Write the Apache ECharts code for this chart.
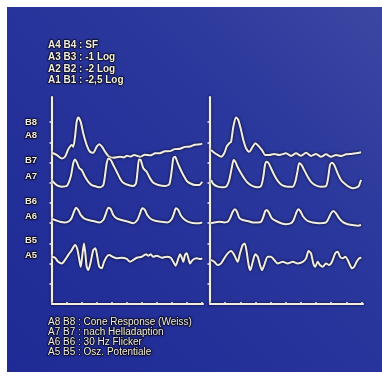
<!DOCTYPE html>
<html><head><meta charset="utf-8">
<script src="https://cdn.jsdelivr.net/npm/echarts@6/dist/echarts.min.js"></script>
<style>html,body{margin:0;padding:0;background:#fff}#c{width:382px;height:382px}</style>
</head><body><div id="c"></div>
<script>
// Tick positions (axis units)
const xTicks = [10,20,30,40,50,60,70,80,90,100];
const yTicks = [10,20,30,40,50,60,70,80,90];
// Row labels on the left
const rowLabels = ['B8','A8','B7','A7','B6','A6','B5','A5'];
const topLegend = ['A4 B4 : SF','A3 B3 : -1 Log','A2 B2 : -2 Log','A1 B1 : -2,5 Log'];
const bottomLegend = ['A8 B8 : Cone Response (Weiss)','A7 B7 : nach Helladaption','A6 B6 : 30 Hz Flicker','A5 B5 : Osz. Potentiale'];

// Left panel (A) traces: [x, y]
const coneA = [[0,74.9],[3.1,73.8],[6.5,72.1],[8.7,72.9],[10.9,76.6],[13.2,78.7],[14.2,77.9],[15.4,82.8],[16.5,90.2],[17.6,92.4],[19.2,90.2],[20.9,84.5],[23.2,78.7],[25.4,75.4],[27.6,74.9],[29.9,77.9],[31.6,79.1],[33.4,77.9],[35.5,75.4],[37.7,73.3],[41,72.4],[45.5,72.9],[48,72.6],[50,73.4],[52.2,73.0],[55,73.8],[58.9,72.9],[62,73.9],[65.6,73.6],[69,74.6],[72.2,74.7],[75.5,75.6],[78.9,75.7],[82,76.7],[85.6,76.9],[89,77.8],[92.3,78.0],[95.5,78.9],[99,79.1],[100.5,79.4]];
const helladA = [[0,61.0],[3.1,58.9],[6.5,58.1],[9.8,58.4],[12.5,63.0],[14.2,69.7],[15.4,71.6],[16.5,70.4],[18.3,67.2],[19.9,66.3],[22.1,63.0],[24.3,60.5],[26.6,58.9],[29.9,58.1],[32.1,57.8],[34.3,58.9],[35.5,63.9],[36.6,69.7],[37.7,72.1],[39.3,71.3],[41,68.8],[43.3,65.5],[45.5,62.2],[47.7,60.0],[51,58.9],[54.4,58.4],[56.2,59.8],[57.3,66.3],[58.2,71.6],[59.3,71.3],[61.1,67.2],[63.3,65.5],[65.6,62.2],[67.8,60.0],[71.1,58.9],[75.6,58.4],[78.5,59.4],[80.1,66.3],[81.1,72.1],[82.3,72.9],[83.8,70.4],[85.6,67.2],[87.8,63.9],[90.1,61.0],[92.3,59.8],[95.7,58.9],[98.5,58.9],[100.5,60.5]];
const flickerA = [[0,42.1],[2,41.6],[5.4,40.7],[8.7,40.4],[11.6,41.1],[13.2,42.7],[14.7,45.7],[16.1,47.7],[17.6,46.5],[19.2,44.1],[21.4,42.4],[24.3,41.6],[27.6,41.1],[31.6,40.4],[34.3,41.6],[36.1,44.9],[37.7,47.7],[39.3,47.0],[41,44.1],[43.3,42.4],[46.6,41.6],[51,40.7],[54.4,40.0],[57.1,41.6],[58.9,44.9],[60.4,47.4],[62.2,46.5],[63.7,44.1],[66.2,42.1],[69.6,41.1],[73.4,40.7],[77.1,40.4],[80.1,42.1],[81.6,44.9],[82.9,47.4],[84.5,46.5],[86.3,43.7],[89,41.6],[92.3,40.4],[95.7,40.0],[98.5,40.0],[100.5,40.4]];
const oszA = [[0,23.4],[2,22.9],[4.2,20.9],[6.5,20.1],[8.7,21.8],[10.9,24.3],[13.2,26.7],[15.4,29.2],[16.9,27.2],[18.3,21.8],[19.2,18.5],[20.3,24.3],[21.4,30.0],[22.3,25.1],[23.2,18.5],[24.3,16.8],[25.9,20.9],[27.6,26.7],[29,27.6],[30.3,23.4],[31.6,18.5],[33.2,17.7],[34.8,20.9],[36.6,23.4],[38.3,24.3],[40.6,23.4],[43.3,22.6],[46.6,22.9],[50,22.3],[52.2,20.9],[54.4,21.8],[56.7,22.9],[60,23.4],[62.9,24.6],[64.4,23.9],[66,24.6],[67.8,23.4],[70,23.9],[73.4,22.9],[76.7,23.4],[79.4,22.9],[81.1,20.9],[82.7,19.0],[84.5,22.6],[85.6,24.6],[87,22.6],[87.8,20.9],[89,24.3],[90.1,25.1],[91.2,22.6],[92.3,20.1],[94.1,21.8],[96.8,22.6],[99.5,22.3],[100.5,22.6]];

// Right panel (B) traces
const coneB = [[0.7,76.2],[2.8,74.9],[5.1,73.8],[7.3,72.9],[9.4,74.6],[11,77.9],[12.7,79.6],[13.9,80.3],[15.4,87.8],[17.2,92.4],[18.7,91.1],[20.5,86.1],[22,81.2],[23.8,77.1],[25.9,75.4],[28.2,77.9],[29.9,79.6],[32.1,78.2],[34.3,76.2],[36.5,73.8],[39.1,73.8],[42.4,74.3],[45.7,73.8],[50.2,74.6],[53.5,73.3],[56.8,74.6],[60.1,73.4],[63.4,74.9],[66.7,73.3],[70,74.3],[73.3,72.9],[76.6,74.1],[79.9,72.9],[83.2,73.8],[86.5,73.3],[89.8,74.1],[93.1,74.3],[96.4,74.6],[99.7,75.1]];
const helladB = [[0.7,61.4],[2.2,59.4],[5.1,58.1],[8.4,57.8],[11,58.4],[12.7,61.4],[14.5,68.0],[15.6,71.3],[16.7,70.4],[18.3,67.7],[20.5,64.7],[22.6,62.2],[24.9,60.0],[28.2,58.4],[31.5,57.8],[33.7,58.4],[35.2,63.0],[36.3,68.8],[37.4,70.4],[38.7,69.7],[40.3,67.2],[42.4,63.9],[44.7,61.0],[47.5,58.9],[51.3,58.1],[54.6,58.1],[56.3,60.5],[57.9,66.3],[58.9,69.7],[60.5,68.8],[62.2,66.3],[64.5,63.0],[66.7,60.5],[69.5,58.9],[73.3,58.1],[76.6,58.4],[78.1,63.0],[79.2,68.8],[80.5,69.9],[82,68.8],[84.3,64.7],[86.5,61.4],[88.6,59.8],[91.5,58.1],[94.2,57.3],[96.4,57.6],[98.2,58.4],[99.2,60.5],[99.9,61.4]];
const flickerB = [[0.7,40.0],[2.8,40.4],[6.1,40.7],[9.4,40.4],[11.7,40.7],[13.2,42.4],[15,45.7],[16.5,46.9],[17.8,45.7],[19.3,42.7],[21.6,41.6],[24.9,41.1],[28.2,40.4],[31.5,40.4],[33.7,40.7],[35.2,43.2],[36.5,46.0],[37.6,46.5],[39.1,44.9],[40.9,42.4],[43.6,41.1],[46.9,40.0],[50.2,39.5],[53.5,40.0],[55.2,41.6],[56.8,44.9],[58.3,46.9],[59.6,46.0],[61.6,43.2],[64.5,41.1],[67.8,40.4],[72.1,40.0],[76.6,40.4],[78.3,42.4],[79.9,44.9],[81.4,46.0],[83.2,44.9],[85.3,42.4],[88,40.4],[90.9,39.5],[94.2,39.1],[97.5,38.8],[99.7,39.1]];
const oszB = [[0.7,21.8],[2.8,20.9],[5.1,19.3],[7.3,20.1],[9.4,22.6],[11.7,25.1],[13.9,26.2],[16,24.3],[18.3,20.9],[19.8,25.1],[21.6,29.2],[22.9,30.0],[24.2,25.9],[25.5,19.3],[26.6,16.8],[28.2,20.9],[29.9,24.6],[31.5,23.4],[33,19.3],[34.3,16.8],[35.8,19.3],[38.1,23.4],[40.3,23.4],[42.4,21.8],[44.7,20.1],[48,20.9],[51.3,20.1],[54.6,20.9],[57.9,20.1],[61.2,20.9],[63.4,22.6],[65.1,26.2],[66.7,25.1],[68.2,20.1],[69.5,18.5],[71.1,20.9],[72.6,19.3],[74.4,18.5],[76.6,20.1],[78.7,19.3],[80.5,20.9],[82.7,25.1],[84.3,25.9],[85.8,23.4],[87.6,22.6],[89.3,23.4],[90.9,21.8],[92.4,19.3],[93.7,17.7],[95.2,18.5],[96.8,20.9],[98.5,22.6],[99.9,22.9]];

const ink = '#f1ede0';
const shadow = 'rgba(0,0,0,0.9)';

function xAx(grid){
  return {type:'value', gridIndex:grid, min:0, max:101, show:true,
    axisLine:{show:true, lineStyle:{color:ink, width:2.2, shadowColor:shadow, shadowBlur:2.5}},
    axisTick:{show:true, inside:true, length:2, customValues:xTicks, lineStyle:{color:ink, width:1.5}},
    axisLabel:{show:false}, splitLine:{show:false}};
}
function yAx(grid){
  return {type:'value', gridIndex:grid, min:0, max:102.5,
    axisLine:{show:true, lineStyle:{color:ink, width:2.2, shadowColor:shadow, shadowBlur:2.5}},
    axisTick:{show:true, inside:false, length:2.5, customValues:yTicks, lineStyle:{color:ink, width:1.5}},
    axisLabel:{show:false}, splitLine:{show:false}};
}
function trace(data, idx){
  return {type:'line', data:data, xAxisIndex:idx, yAxisIndex:idx, showSymbol:false, smooth:0.25,
    silent:true, animation:false,
    lineStyle:{color:ink, width:2, shadowColor:shadow, shadowBlur:3}};
}

const textStyleBase = {fill:ink, stroke:'rgba(10,10,30,0.75)', lineWidth:1.2, textShadowColor:'rgba(0,0,0,0.9)', textShadowBlur:2};
const graphics = [
  {type:'rect', z:-10, silent:true, shape:{x:7,y:7,width:375,height:365},
   style:{fill:new echarts.graphic.LinearGradient(1,0,0,1,[{offset:0,color:'#3a47a2'},{offset:0.35,color:'#2a379c'},{offset:1,color:'#1f2a96'}])}}
];
topLegend.forEach((t,i)=>{
  graphics.push({type:'text', x:48, y:[45,57,69,80][i], silent:true,
    style:Object.assign({text:t, font:'bold 10px "Liberation Sans", Arial, sans-serif', verticalAlign:'middle', textVerticalAlign:'middle'}, textStyleBase)});
});
bottomLegend.forEach((t,i)=>{
  graphics.push({type:'text', x:48, y:[322,332,342,352][i], silent:true,
    style:Object.assign({text:t, font:'10px "Liberation Sans", Arial, sans-serif', verticalAlign:'middle', textVerticalAlign:'middle'}, textStyleBase)});
});
const rowY = [122,135,160,176,201,216,240,255];
rowLabels.forEach((t,i)=>{
  graphics.push({type:'text', x:25, y:rowY[i], silent:true,
    style:Object.assign({text:t, font:'bold 9.5px "Liberation Sans", Arial, sans-serif', verticalAlign:'middle', textVerticalAlign:'middle'}, textStyleBase)});
});

const chart = echarts.init(document.getElementById('c'), null, {renderer:'canvas'});
chart.setOption({
  backgroundColor:'#ffffff',
  animation:false,
  grid:[
    {left:52, right:179, top:97, bottom:78},
    {left:210, right:19, top:97, bottom:78}
  ],
  xAxis:[xAx(0), xAx(1)],
  yAxis:[yAx(0), yAx(1)],
  series:[
    trace(coneA,0), trace(helladA,0), trace(flickerA,0), trace(oszA,0),
    trace(coneB,1), trace(helladB,1), trace(flickerB,1), trace(oszB,1)
  ],
  graphic:graphics
});
</script></body></html>
